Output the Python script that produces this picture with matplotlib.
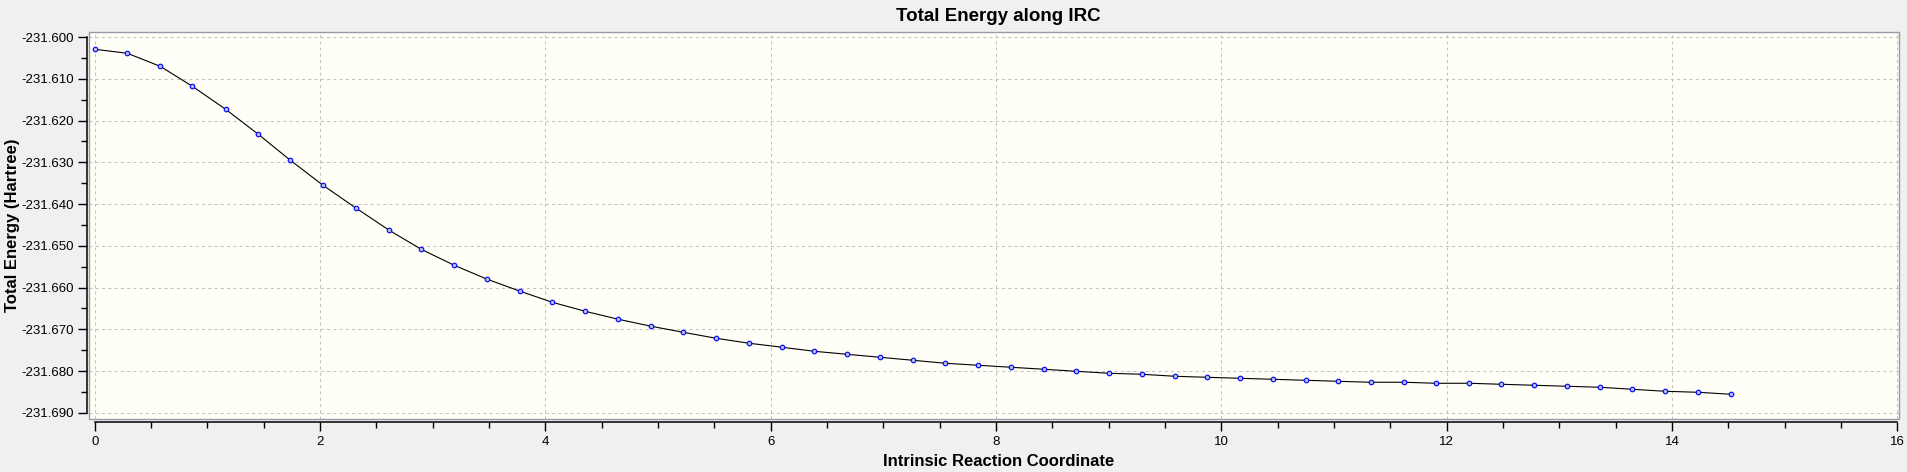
import matplotlib
matplotlib.use("Agg")
import matplotlib.pyplot as plt
from matplotlib.patches import Rectangle
from matplotlib.ticker import MultipleLocator, FormatStrFormatter

plt.rcParams["font.family"] = ["Liberation Sans", "DejaVu Sans"]
plt.rcParams["axes.unicode_minus"] = False

# IRC points
irc_coord = [
    0.000, 0.289, 0.581, 0.866, 1.162, 1.451, 1.736, 2.026, 2.321, 2.614,
    2.898, 3.191, 3.484, 3.777, 4.061, 4.354, 4.647, 4.940, 5.224, 5.517,
    5.810, 6.103, 6.387, 6.680, 6.973, 7.266, 7.550, 7.843, 8.136, 8.429,
    8.713, 9.006, 9.299, 9.592, 9.876, 10.169, 10.462, 10.755, 11.039, 11.332,
    11.625, 11.909, 12.202, 12.486, 12.779, 13.072, 13.364, 13.649, 13.941, 14.234,
    14.527,
]
total_energy = [
    -231.60293, -231.60389, -231.60701, -231.61180, -231.61731,
    -231.62329, -231.62952, -231.63551, -231.64102, -231.64629,
    -231.65084, -231.65467, -231.65802, -231.66090, -231.66353,
    -231.66569, -231.66760, -231.66928, -231.67072, -231.67216,
    -231.67335, -231.67431, -231.67527, -231.67599, -231.67671,
    -231.67743, -231.67814, -231.67862, -231.67910, -231.67958,
    -231.68006, -231.68054, -231.68078, -231.68126, -231.68150,
    -231.68174, -231.68198, -231.68222, -231.68246, -231.68269,
    -231.68269, -231.68293, -231.68293, -231.68317, -231.68341,
    -231.68365, -231.68389, -231.68437, -231.68485, -231.68509,
    -231.68557,
]
x_ticks = [0, 2, 4, 6, 8, 10, 12, 14, 16]
y_ticks = [-231.600, -231.610, -231.620, -231.630, -231.640,
           -231.650, -231.660, -231.670, -231.680, -231.690]

W, H = 1908, 472
fig = plt.figure(figsize=(W / 100, H / 100), dpi=100, facecolor="#f0f0f0")
ax = fig.add_axes([89.3 / W, 1 - 419.3 / H, (1899 - 89.3) / W, (419.3 - 31.7) / H])
ax.set_facecolor("#fffff7")

ax.plot(irc_coord, total_energy, color="black", lw=0.8, zorder=3)
ax.plot(irc_coord, total_energy, ls="none", marker="o", ms=3.3,
        mfc="#b4c0e0", mec="#0000ff", mew=0.8, zorder=4)

ax.set_xlim(-0.049, 16.016)
ax.set_ylim(-231.69156, -231.59872)
ax.set_xticks(x_ticks)
ax.set_yticks(y_ticks)
ax.xaxis.set_minor_locator(MultipleLocator(0.5))
ax.yaxis.set_minor_locator(MultipleLocator(0.005))
ax.yaxis.set_major_formatter(FormatStrFormatter("%.3f"))

ax.set_axisbelow(True)
ax.grid(True, which="major", color="#c4c4c4", lw=0.75, ls=(0, (3, 3)))

for s in ["top", "right"]:
    ax.spines[s].set_visible(False)
ax.spines["left"].set_position(("outward", 1.5))
ax.spines["bottom"].set_position(("outward", 2.2))
ax.spines["left"].set_bounds(y_ticks[-1], y_ticks[0])
ax.spines["bottom"].set_bounds(x_ticks[0], x_ticks[-1])
for s in ["left", "bottom"]:
    ax.spines[s].set_linewidth(1.1)
    ax.spines[s].set_color("black")

ax.add_patch(Rectangle((0, 0), 1, 1, transform=ax.transAxes, fill=False,
                       edgecolor="#9a9aa6", lw=1.0, clip_on=False, zorder=5))

ax.tick_params(axis="both", which="major", length=6.5, width=1.0, labelsize=9.5,
               color="black")
ax.tick_params(axis="both", which="minor", length=4.2, width=1.0, color="black")
ax.tick_params(axis="y", which="major", pad=3.3)
ax.tick_params(axis="x", which="major", pad=3.0)

fig.text(998 / W, 1 - 20.7 / H, "Total Energy along IRC", ha="center",
         va="baseline", fontsize=13.5, fontweight="bold")
fig.text(998.7 / W, 1 - 465.7 / H, "Intrinsic Reaction Coordinate", ha="center",
         va="baseline", fontsize=12, fontweight="bold")
fig.text(13 / W, 1 - 225.5 / H, "Total Energy (Hartree)", ha="center",
         va="center", rotation=90, fontsize=12, fontweight="bold")

fig.savefig("out.png", dpi=100, facecolor=fig.get_facecolor())
